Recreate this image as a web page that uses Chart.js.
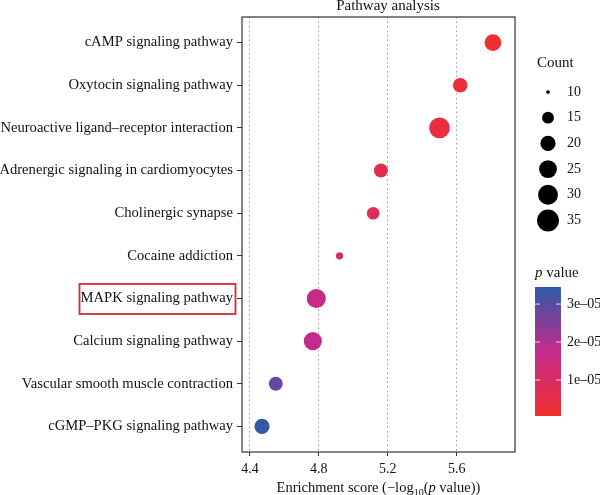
<!DOCTYPE html>
<html>
<head>
<meta charset="utf-8">
<script src="https://cdn.jsdelivr.net/npm/chart.js@4.4.0/dist/chart.umd.min.js"></script>
<style>
html, body { margin: 0; padding: 0; background: #fff; }
canvas { display: block; }
</style>
</head>
<body>
<canvas id="chart" width="600" height="495"></canvas>
<script>
// pathways listed top to bottom
const pathways = [
    'cAMP signaling pathway',
    'Oxytocin signaling pathway',
    'Neuroactive ligand\u2013receptor interaction',
    'Adrenergic signaling in cardiomyocytes',
    'Cholinergic synapse',
    'Cocaine addiction',
    'MAPK signaling pathway',
    'Calcium signaling pathway',
    'Vascular smooth muscle contraction',
    'cGMP\u2013PKG signaling pathway'
];
const enrichment = [5.81, 5.62, 5.50, 5.16, 5.115, 4.92, 4.785, 4.765, 4.55, 4.47];
const counts = [23, 19, 32, 18, 16, 11, 28, 26, 18, 20];
const pValues = [1.5e-6, 2.4e-6, 3.2e-6, 6.9e-6, 7.7e-6, 1.2e-5, 1.64e-5, 1.72e-5, 2.82e-5, 3.4e-5];
const xTicks = [4.4, 4.8, 5.2, 5.6];
const countBreaks = [10, 15, 20, 25, 30, 35];
const pBreaks = [1e-5, 2e-5, 3e-5];
const pBreakLabels = ['1e\u201305', '2e\u201305', '3e\u201305'];
const pLimits = [5.3e-7, 3.45e-5];
const highlighted = 'MAPK signaling pathway';

const FONT = '"Liberation Serif", "DejaVu Serif", serif';
const n = pathways.length;

// size scale: area-style like ggplot scale_size
function radius(c) {
    const t = Math.max(0, (c - 10) / 26);
    return 1.85 * (1 + 5 * Math.sqrt(t));
}

// colour scale low -> high p value
const stops = [[241, 47, 47], [196, 42, 140], [46, 91, 170]];
function pColor(p) {
    let t = (p - pLimits[0]) / (pLimits[1] - pLimits[0]);
    t = Math.min(1, Math.max(0, t));
    const seg = t < 0.5 ? 0 : 1;
    const u = t < 0.5 ? t / 0.5 : (t - 0.5) / 0.5;
    const a = stops[seg], b = stops[seg + 1];
    const c = a.map((v, k) => Math.round(v + (b[k] - v) * u));
    return 'rgb(' + c.join(',') + ')';
}

const points = pathways.map((p, i) => ({ x: enrichment[i], y: n - i }));

const decorations = {
    id: 'decorations',
    afterDraw(chart) {
        const ctx = chart.ctx;
        const area = chart.chartArea;
        ctx.save();

        // panel border
        ctx.strokeStyle = '#333';
        ctx.lineWidth = 1.2;
        ctx.strokeRect(area.left, area.top, area.right - area.left, area.bottom - area.top);

        // title
        ctx.fillStyle = '#111';
        ctx.font = '15px ' + FONT;
        ctx.textAlign = 'center';
        ctx.textBaseline = 'middle';
        ctx.fillText('Pathway analysis', 388, 6);

        // x axis title with subscript and italic p
        const parts = [
            { t: 'Enrichment score (\u2212log', f: '14.5px ' + FONT, dy: 0 },
            { t: '10', f: '10px ' + FONT, dy: 4 },
            { t: '(', f: '14.5px ' + FONT, dy: 0 },
            { t: 'p', f: 'italic 14.5px ' + FONT, dy: 0 },
            { t: ' value))', f: '14.5px ' + FONT, dy: 0 }
        ];
        let total = 0;
        parts.forEach(pt => { ctx.font = pt.f; pt.w = ctx.measureText(pt.t).width; total += pt.w; });
        let xx = (area.left + area.right) / 2 - total / 2;
        ctx.textAlign = 'left';
        ctx.textBaseline = 'alphabetic';
        parts.forEach(pt => {
            ctx.font = pt.f;
            ctx.fillText(pt.t, xx, 492 + pt.dy);
            xx += pt.w;
        });

        // highlight box around a pathway label
        const yScale = chart.scales.y;
        const hi = pathways.indexOf(highlighted);
        const hy = yScale.getPixelForValue(n - hi);
        ctx.strokeStyle = '#d62a2e';
        ctx.lineWidth = 1.8;
        ctx.strokeRect(79.5, hy - 14.5, 156, 30);

        // size legend
        ctx.fillStyle = '#111';
        ctx.font = '15px ' + FONT;
        ctx.textAlign = 'left';
        ctx.textBaseline = 'middle';
        ctx.fillText('Count', 537, 63);
        countBreaks.forEach((c, k) => {
            const cy = 92 + k * 25.7;
            ctx.beginPath();
            ctx.arc(548, cy, radius(c), 0, Math.PI * 2);
            ctx.fillStyle = '#000';
            ctx.fill();
            ctx.fillStyle = '#111';
            ctx.font = '14px ' + FONT;
            ctx.fillText(String(c), 567, cy);
        });

        // colour legend
        ctx.font = 'italic 15px ' + FONT;
        ctx.fillText('p', 535, 273);
        const pw = ctx.measureText('p ').width;
        ctx.font = '15px ' + FONT;
        ctx.fillText('value', 535 + pw, 273);

        const barL = 535, barR = 561, barT = 287, barB = 416;
        const grad = ctx.createLinearGradient(0, barB, 0, barT);
        for (let k = 0; k <= 20; k++) {
            const p = pLimits[0] + (pLimits[1] - pLimits[0]) * k / 20;
            grad.addColorStop(k / 20, pColor(p));
        }
        ctx.fillStyle = grad;
        ctx.fillRect(barL, barT, barR - barL, barB - barT);
        pBreaks.forEach((p, k) => {
            const py = barB - (p - pLimits[0]) / (pLimits[1] - pLimits[0]) * (barB - barT);
            ctx.strokeStyle = 'rgba(255,255,255,0.8)';
            ctx.lineWidth = 1;
            ctx.beginPath();
            ctx.moveTo(barL, py); ctx.lineTo(barL + 5, py);
            ctx.moveTo(barR - 5, py); ctx.lineTo(barR, py);
            ctx.stroke();
            ctx.fillStyle = '#111';
            ctx.font = '14px ' + FONT;
            ctx.fillText(pBreakLabels[k], 567, py);
        });

        ctx.restore();
    }
};

new Chart(document.getElementById('chart'), {
    type: 'scatter',
    data: {
        datasets: [{
            data: points,
            pointRadius: ctx => radius(counts[ctx.dataIndex]),
            pointHoverRadius: ctx => radius(counts[ctx.dataIndex]),
            pointBackgroundColor: ctx => pColor(pValues[ctx.dataIndex]),
            pointBorderWidth: 0
        }]
    },
    options: {
        responsive: false,
        animation: false,
        layout: { padding: { top: 17, right: 85, left: 0, bottom: 0 } },
        plugins: { legend: { display: false }, tooltip: { enabled: false } },
        scales: {
            x: {
                type: 'linear',
                min: 4.354,
                max: 5.938,
                afterBuildTicks: s => { s.ticks = xTicks.map(v => ({ value: v })); },
                afterFit: s => { s.height = 43; },
                grid: {
                    color: '#999',
                    lineWidth: 1,
                    tickColor: '#333',
                    tickLength: 4,
                    tickBorderDash: []
                },
                border: { display: false, dash: [1.5, 3] },
                ticks: {
                    color: '#111',
                    padding: 5,
                    font: { family: FONT, size: 14 },
                    callback: v => v.toFixed(1)
                }
            },
            y: {
                type: 'linear',
                min: 0.4,
                max: 10.6,
                afterBuildTicks: s => { s.ticks = pathways.map((p, i) => ({ value: n - i })); },
                afterFit: s => { s.width = 242; },
                grid: {
                    drawOnChartArea: false,
                    tickColor: '#333',
                    tickLength: 5
                },
                border: { display: false },
                ticks: {
                    color: '#111',
                    padding: 4,
                    font: { family: FONT, size: 14.6 },
                    callback: v => pathways[n - v]
                }
            }
        }
    },
    plugins: [decorations]
});
</script>
</body>
</html>
